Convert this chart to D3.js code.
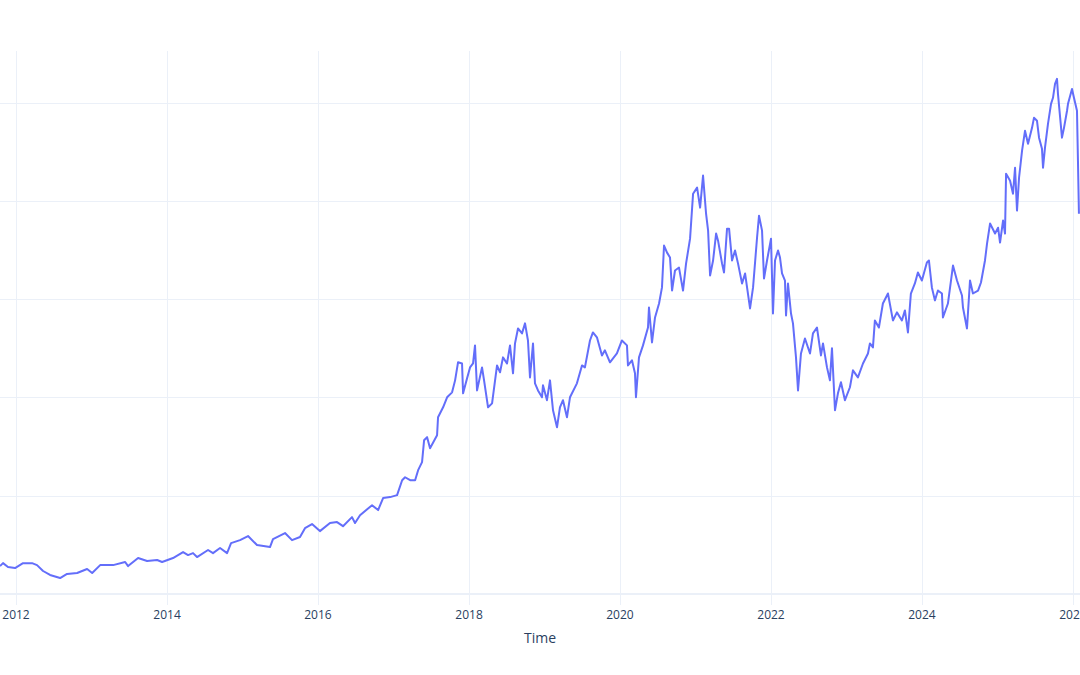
<!DOCTYPE html>
<html>
<head>
<meta charset="utf-8">
<script src="https://cdn.jsdelivr.net/npm/d3@7"></script>
<style>
  body { margin: 0; background: #fff; }
  svg { display: block; }
</style>
</head>
<body>
<div id="chart"></div>
<script>
// price series, time as decimal year
var years = [
  2011.788, 2011.828, 2011.894, 2011.987, 2012.093, 2012.212, 2012.278, 2012.358, 2012.450, 2012.583,
  2012.675, 2012.808, 2012.940, 2013.007, 2013.113, 2013.285, 2013.444, 2013.483, 2013.616, 2013.735,
  2013.868, 2013.934, 2014.079, 2014.212, 2014.278, 2014.344, 2014.397, 2014.543, 2014.609, 2014.702,
  2014.795, 2014.848, 2014.967, 2015.073, 2015.192, 2015.364, 2015.404, 2015.563, 2015.656, 2015.762,
  2015.828, 2015.921, 2016.026, 2016.159, 2016.252, 2016.331, 2016.450, 2016.490, 2016.556, 2016.715,
  2016.795, 2016.861, 2016.954, 2017.046, 2017.113, 2017.152, 2017.219, 2017.285, 2017.325, 2017.377,
  2017.404, 2017.444, 2017.483, 2017.576, 2017.589, 2017.656, 2017.709, 2017.775, 2017.815, 2017.854,
  2017.907, 2017.921, 2017.973, 2018.013, 2018.053, 2018.079, 2018.106, 2018.172, 2018.199, 2018.252,
  2018.305, 2018.371, 2018.411, 2018.450, 2018.503, 2018.543, 2018.583, 2018.609, 2018.649, 2018.702,
  2018.742, 2018.781, 2018.808, 2018.848, 2018.874, 2018.914, 2018.967, 2018.980, 2019.033, 2019.073,
  2019.113, 2019.166, 2019.205, 2019.245, 2019.298, 2019.338, 2019.430, 2019.497, 2019.536, 2019.603,
  2019.642, 2019.695, 2019.762, 2019.801, 2019.868, 2019.960, 2020.026, 2020.093, 2020.106, 2020.159,
  2020.199, 2020.212, 2020.252, 2020.305, 2020.371, 2020.384, 2020.424, 2020.464, 2020.517, 2020.556,
  2020.583, 2020.623, 2020.662, 2020.689, 2020.728, 2020.781, 2020.834, 2020.874, 2020.927, 2020.967,
  2021.020, 2021.060, 2021.099, 2021.139, 2021.166, 2021.192, 2021.232, 2021.272, 2021.298, 2021.351,
  2021.377, 2021.417, 2021.444, 2021.483, 2021.523, 2021.563, 2021.616, 2021.656, 2021.722, 2021.762,
  2021.815, 2021.841, 2021.881, 2021.907, 2021.947, 2022.000, 2022.026, 2022.053, 2022.093, 2022.119,
  2022.146, 2022.185, 2022.199, 2022.225, 2022.265, 2022.291, 2022.331, 2022.358, 2022.397, 2022.450,
  2022.517, 2022.556, 2022.609, 2022.662, 2022.689, 2022.742, 2022.781, 2022.808, 2022.848, 2022.887,
  2022.927, 2022.980, 2023.046, 2023.086, 2023.152, 2023.219, 2023.285, 2023.311, 2023.351, 2023.377,
  2023.430, 2023.483, 2023.550, 2023.616, 2023.669, 2023.735, 2023.775, 2023.815, 2023.854, 2023.907,
  2023.947, 2024.000, 2024.066, 2024.093, 2024.132, 2024.172, 2024.212, 2024.265, 2024.278, 2024.344,
  2024.411, 2024.464, 2024.530, 2024.543, 2024.596, 2024.636, 2024.675, 2024.742, 2024.781, 2024.834,
  2024.861, 2024.901, 2024.967, 2025.007, 2025.033, 2025.073, 2025.099, 2025.113, 2025.166, 2025.205,
  2025.232, 2025.258, 2025.285, 2025.325, 2025.364, 2025.404, 2025.457, 2025.483, 2025.523, 2025.550,
  2025.589, 2025.603, 2025.629, 2025.669, 2025.709, 2025.735, 2025.762, 2025.788, 2025.801, 2025.854,
  2025.881, 2025.921, 2025.934, 2025.987, 2026.013, 2026.053, 2026.066, 2026.079
];
var prices = [
  14.2, 15.7, 13.7, 13.2, 15.7, 15.7, 14.7, 11.7, 9.7, 8.1,
  10.2, 10.7, 12.7, 10.7, 14.7, 14.7, 16.3, 14.2, 18.3, 16.8,
  17.3, 16.3, 18.3, 21.3, 19.8, 20.8, 18.8, 22.4, 20.8, 23.4,
  20.8, 25.9, 27.4, 29.5, 24.9, 23.9, 27.9, 31.0, 27.4, 29.0,
  33.5, 35.6, 32.0, 36.1, 36.6, 34.5, 39.1, 36.1, 40.1, 45.2,
  42.7, 48.8, 49.3, 50.3, 57.9, 59.4, 57.9, 57.9, 63.0, 67.1,
  78.2, 79.8, 74.2, 80.8, 89.9, 95.0, 100.1, 102.6, 108.7, 117.9,
  117.3, 102.1, 109.7, 115.3, 117.3, 126.5, 103.6, 115.3, 108.7, 95.0,
  97.0, 116.3, 112.8, 120.4, 117.3, 126.5, 112.3, 127.5, 135.1, 132.6,
  137.7, 129.0, 110.2, 127.5, 107.2, 103.6, 100.1, 106.2, 98.6, 108.7,
  93.5, 84.8, 95.0, 98.6, 89.9, 100.1, 107.2, 116.3, 115.3, 129.0,
  133.1, 130.6, 121.4, 124.0, 117.9, 122.4, 129.0, 126.5, 116.3, 118.9,
  112.3, 100.1, 120.4, 126.5, 135.6, 145.8, 128.0, 140.7, 147.8, 156.0,
  177.3, 173.7, 171.2, 154.4, 164.6, 166.1, 154.4, 168.1, 180.8, 203.7,
  206.8, 196.6, 212.9, 193.5, 184.9, 162.1, 169.7, 183.4, 179.8, 168.1,
  163.6, 185.9, 185.9, 169.7, 174.8, 168.1, 158.0, 163.1, 145.3, 156.0,
  181.4, 192.5, 184.9, 160.5, 169.7, 180.8, 142.7, 169.7, 174.8, 171.2,
  163.1, 159.5, 141.7, 158.0, 142.7, 137.7, 120.4, 103.6, 122.4, 130.0,
  122.4, 132.6, 135.6, 121.4, 127.5, 115.3, 108.7, 125.0, 93.5, 102.1,
  107.7, 98.6, 105.2, 113.8, 110.2, 117.3, 122.4, 127.5, 125.5, 139.2,
  135.6, 147.8, 152.9, 139.2, 143.3, 139.2, 144.3, 133.1, 152.9, 158.0,
  163.6, 159.5, 168.7, 169.7, 156.0, 149.4, 154.4, 152.9, 140.7, 147.8,
  167.1, 159.5, 151.9, 145.8, 135.1, 159.5, 152.9, 154.4, 158.5, 169.7,
  178.3, 188.5, 183.4, 186.4, 178.8, 190.0, 183.4, 213.9, 210.3, 203.7,
  216.9, 195.1, 211.8, 225.6, 235.7, 229.1, 237.2, 242.3, 240.8, 232.2,
  226.6, 216.9, 227.1, 239.3, 249.4, 252.5, 259.6, 262.1, 254.5, 232.2,
  237.2, 245.9, 249.4, 257.0, 252.5, 245.9, 220.5, 193.5
];
var yTicks = [0, 50, 100, 150, 200, 250];
var xTitle = "Time";

var w = 1080, h = 675;
var plotTop = 51, plotBottom = 605, plotLeft = 0, plotRight = 1080;

// decimal year -> Date
function toDate(y) {
  var yr = Math.floor(y);
  var start = new Date(yr, 0, 1), end = new Date(yr + 1, 0, 1);
  return new Date(start.getTime() + (y - yr) * (end - start));
}

var data = years.map(function(y, i) { return {t: toDate(y), v: prices[i]}; });

var x = d3.scaleTime()
  .domain([toDate(2011.788), toDate(2026.093)])
  .range([plotLeft, plotRight]);

var y = d3.scaleLinear()
  .domain([-5.6, 276.3])
  .range([plotBottom, plotTop]);

var the_svg = d3.select('#chart')
  .append('svg')
    .attr('width', w)
    .attr('height', h)
    .style('font-family', '"Open Sans", verdana, arial, sans-serif');

the_svg.append('rect')
  .attr('width', w)
  .attr('height', h)
  .attr('fill', '#fff');

the_svg.append('clipPath')
    .attr('id', 'plotclip')
  .append('rect')
    .attr('x', plotLeft)
    .attr('y', plotTop)
    .attr('width', plotRight - plotLeft)
    .attr('height', plotBottom - plotTop);

// vertical grid, every 2 years
var xTicks = x.ticks(d3.timeYear.every(2));
the_svg.append('g')
  .selectAll('line')
  .data(xTicks)
  .join('line')
    .attr('x1', function(d) { return Math.round(x(d)) + 0.5; })
    .attr('x2', function(d) { return Math.round(x(d)) + 0.5; })
    .attr('y1', plotTop)
    .attr('y2', plotBottom)
    .attr('stroke', '#EBF0F8')
    .attr('stroke-width', 1);

// horizontal grid, zero line a bit heavier
the_svg.append('g')
  .selectAll('line')
  .data(yTicks)
  .join('line')
    .attr('x1', plotLeft)
    .attr('x2', plotRight)
    .attr('y1', function(d) { return d === 0 ? Math.round(y(d)) : Math.round(y(d)) + 0.5; })
    .attr('y2', function(d) { return d === 0 ? Math.round(y(d)) : Math.round(y(d)) + 0.5; })
    .attr('stroke', '#EBF0F8')
    .attr('stroke-width', function(d) { return d === 0 ? 2 : 1; });

// x tick labels
the_svg.append('g')
  .selectAll('text')
  .data(xTicks)
  .join('text')
    .attr('x', function(d) { return x(d); })
    .attr('y', 619)
    .attr('text-anchor', 'middle')
    .attr('font-size', 12)
    .attr('fill', '#2a3f5f')
    .text(d3.timeFormat('%Y'));

the_svg.append('text')
  .attr('x', 540)
  .attr('y', 643)
  .attr('text-anchor', 'middle')
  .attr('font-size', 14)
  .attr('fill', '#2a3f5f')
  .text(xTitle);

var line = d3.line()
  .x(function(d) { return x(d.t); })
  .y(function(d) { return y(d.v); });

the_svg.append('path')
  .datum(data)
  .attr('clip-path', 'url(#plotclip)')
  .attr('d', line)
  .attr('fill', 'none')
  .attr('stroke', '#636efa')
  .attr('stroke-width', 2)
  .attr('stroke-linejoin', 'round');
</script>
</body>
</html>
